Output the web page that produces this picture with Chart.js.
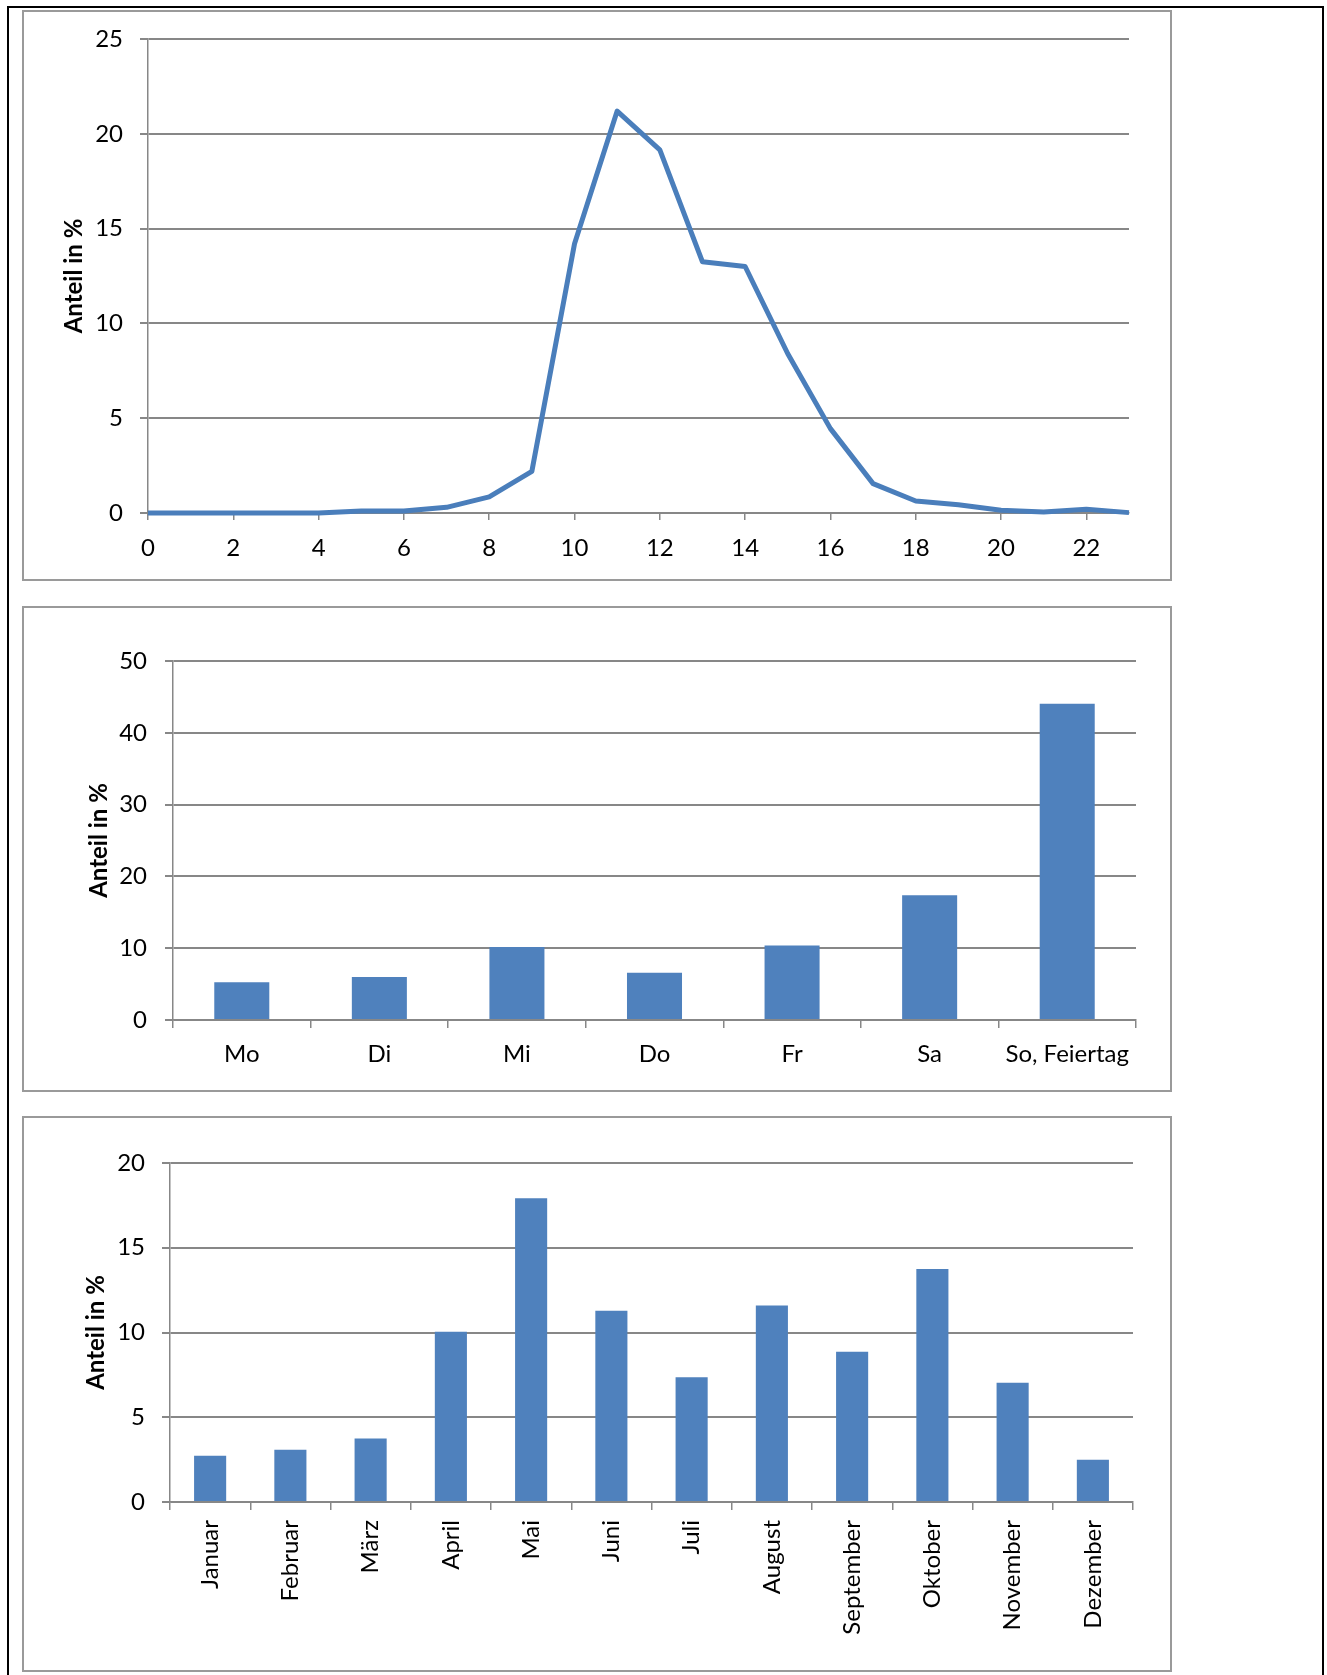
<!DOCTYPE html>
<html>
<head>
<meta charset="utf-8">
<title>Anteil in %</title>
<script src="https://cdn.jsdelivr.net/npm/chart.js@4/dist/chart.umd.min.js"></script>
<style>
  html, body { margin: 0; padding: 0; background: #fff; }
  body { width: 1327px; height: 1675px; position: relative; overflow: hidden; }
  .outer { position: absolute; left: 7px; top: 6px; width: 1317px; height: 1720px;
           border: 2px solid #000; box-sizing: border-box; }
  .frame { position: absolute; left: 22px; width: 1150px; border: 2px solid #9a9a9a;
           box-sizing: border-box; background: #fff; }
  canvas { position: absolute; left: 24px; }
</style>
</head>
<body>
<div class="outer"></div>
<div class="frame" style="top:10px;height:571px"></div>
<div class="frame" style="top:606px;height:486px"></div>
<div class="frame" style="top:1116px;height:556px"></div>
<canvas id="hourChart" width="1146" height="566" style="top:12px"></canvas>
<canvas id="dayChart" width="1146" height="480" style="top:608px"></canvas>
<canvas id="monthChart" width="1146" height="550" style="top:1118px"></canvas>

<script>
// Share by hour of day
const hours = [0, 1, 2, 3, 4, 5, 6, 7, 8, 9, 10, 11, 12, 13, 14, 15, 16, 17, 18, 19, 20, 21, 22, 23];
const hourShare = [0, 0, 0, 0, 0, 0.1, 0.1, 0.3, 0.85, 2.2, 14.2, 21.2, 19.15, 13.25, 13.0, 8.4,
                   4.45, 1.55, 0.63, 0.43, 0.15, 0.05, 0.2, 0.02];

// Share by day of week
const days = ['Mo', 'Di', 'Mi', 'Do', 'Fr', 'Sa', 'So, Feiertag'];
const dayShare = [5.25, 6.0, 10.15, 6.57, 10.38, 17.38, 44.03];

// Share by month
const months = ['Januar', 'Februar', 'März', 'April', 'Mai', 'Juni', 'Juli', 'August',
                'September', 'Oktober', 'November', 'Dezember'];
const monthShare = [2.73, 3.08, 3.75, 10.05, 17.92, 11.29, 7.36, 11.6, 8.86, 13.74, 7.04, 2.5];

const axisTitle = 'Anteil in %';

const GRID = '#878787';
const LINE_BLUE = '#4a7ebb';
const BAR_BLUE = '#4f81bd';
const TICK_FONT = { family: 'Lato', size: 24 };
const TITLE_FONT = { family: 'Lato', size: 24, weight: 'bold' };

// Value axis with a fixed width; its label overflow is left to the layout padding
function valueAxis(max, step, width, tickPad, titlePad) {
  return {
    min: 0, max: max,
    ticks: { stepSize: step, color: '#000', font: TICK_FONT, padding: tickPad },
    grid: { color: GRID, lineWidth: 2, tickLength: 8, tickColor: GRID, tickWidth: 2 },
    border: { display: true, color: GRID, width: 1.5 },
    title: { display: true, text: axisTitle, color: '#000', font: TITLE_FONT,
             padding: { top: titlePad, bottom: 0 } },
    afterFit: function (s) {
      s.width = width;
      s.paddingTop = 0;
      s.paddingBottom = 0;
    }
  };
}

function categoryAxis(height, tickPad, rotated) {
  return {
    type: 'category',
    ticks: { color: '#000', font: TICK_FONT, padding: tickPad, autoSkip: false,
             minRotation: rotated ? 90 : 0, maxRotation: rotated ? 90 : 0 },
    grid: { drawOnChartArea: false, offset: true, tickLength: 8, color: GRID, lineWidth: 1.5 },
    border: { display: true, color: GRID, width: 1.5 },
    afterFit: function (s) { s.height = height; }
  };
}

const common = {
  responsive: false,
  animation: false,
  devicePixelRatio: 1,
  plugins: { legend: { display: false }, tooltip: { enabled: false } }
};

// Hour-of-day line chart
new Chart(document.getElementById('hourChart'), {
  type: 'line',
  data: {
    datasets: [{
      data: hours.map((h, i) => ({ x: h, y: hourShare[i] })),
      borderColor: LINE_BLUE,
      borderWidth: 5,
      borderJoinStyle: 'round',
      pointRadius: 0,
      tension: 0,
      fill: false,
      clip: false
    }]
  },
  options: Object.assign({}, common, {
    layout: { padding: { left: 0, right: 41, top: 27, bottom: 0 } },
    scales: {
      x: {
        type: 'linear', min: 0, max: 23,
        ticks: { stepSize: 2, includeBounds: false, color: '#000', font: TICK_FONT, padding: 14 },
        grid: { drawOnChartArea: false, tickLength: 7, color: GRID, lineWidth: 1.5 },
        border: { display: true, color: GRID, width: 1.5 },
        afterFit: function (s) { s.height = 65; }
      },
      y: valueAxis(25, 5, 124, 17, 36)
    }
  })
});

// Day-of-week bar chart
new Chart(document.getElementById('dayChart'), {
  type: 'bar',
  data: {
    labels: days,
    datasets: [{ data: dayShare, backgroundColor: BAR_BLUE, categoryPercentage: 1, barPercentage: 0.4 }]
  },
  options: Object.assign({}, common, {
    layout: { padding: { left: 0, right: 34, top: 53, bottom: 0 } },
    scales: {
      x: categoryAxis(68, 12, false),
      y: valueAxis(50, 10, 149, 18, 61)
    }
  })
});

// Month bar chart
new Chart(document.getElementById('monthChart'), {
  type: 'bar',
  data: {
    labels: months,
    datasets: [{ data: monthShare, backgroundColor: BAR_BLUE, categoryPercentage: 1, barPercentage: 0.4 }]
  },
  options: Object.assign({}, common, {
    layout: { padding: { left: 0, right: 37, top: 45, bottom: 0 } },
    scales: {
      x: categoryAxis(166, 10, true),
      y: valueAxis(20, 5, 146, 17, 58)
    }
  })
});
</script>
</body>
</html>
